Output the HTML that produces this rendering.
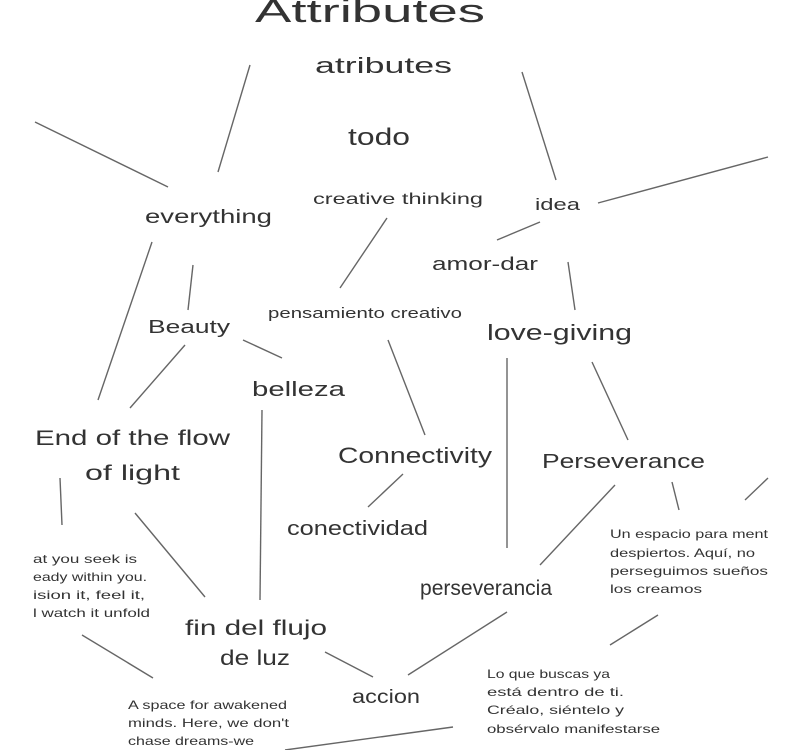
<!DOCTYPE html>
<html><head><style>
html,body{margin:0;padding:0;background:#fff;}
svg text{font-family:"Liberation Sans",sans-serif;fill:#333;}
</style></head><body>
<svg width="800" height="750" viewBox="0 0 800 750" xmlns="http://www.w3.org/2000/svg">
<g stroke="#666" stroke-width="1.4" fill="none">
<line x1="250" y1="65" x2="218" y2="172"/>
<line x1="35" y1="122" x2="168" y2="187"/>
<line x1="522" y1="72" x2="556" y2="180"/>
<line x1="598" y1="203" x2="768" y2="157"/>
<line x1="387" y1="218" x2="340" y2="288"/>
<line x1="540" y1="222" x2="497" y2="240"/>
<line x1="152" y1="242" x2="98" y2="400"/>
<line x1="193" y1="265" x2="188" y2="310"/>
<line x1="568" y1="262" x2="575" y2="310"/>
<line x1="243" y1="340" x2="282" y2="358"/>
<line x1="185" y1="345" x2="130" y2="408"/>
<line x1="388" y1="340" x2="425" y2="435"/>
<line x1="592" y1="362" x2="628" y2="440"/>
<line x1="507" y1="358" x2="507" y2="548"/>
<line x1="262" y1="410" x2="260" y2="600"/>
<line x1="403" y1="474" x2="368" y2="507"/>
<line x1="672" y1="482" x2="679" y2="510"/>
<line x1="768" y1="478" x2="745" y2="500"/>
<line x1="615" y1="485" x2="540" y2="565"/>
<line x1="60" y1="478" x2="62" y2="525"/>
<line x1="135" y1="513" x2="205" y2="597"/>
<line x1="82" y1="635" x2="153" y2="678"/>
<line x1="325" y1="652" x2="373" y2="677"/>
<line x1="507" y1="612" x2="408" y2="675"/>
<line x1="658" y1="615" x2="610" y2="645"/>
<line x1="453" y1="727" x2="285" y2="750"/>
</g>
<g lengthAdjust="spacingAndGlyphs">
<text x="255" y="22" font-size="32" textLength="230" lengthAdjust="spacingAndGlyphs">Attributes</text>
<text x="315" y="73" font-size="22" textLength="137" lengthAdjust="spacingAndGlyphs">atributes</text>
<text x="348" y="145" font-size="24" textLength="62" lengthAdjust="spacingAndGlyphs">todo</text>
<text x="313" y="204" font-size="16" textLength="170" lengthAdjust="spacingAndGlyphs">creative thinking</text>
<text x="535" y="210" font-size="17" textLength="45" lengthAdjust="spacingAndGlyphs">idea</text>
<text x="145" y="223" font-size="19" textLength="127" lengthAdjust="spacingAndGlyphs">everything</text>
<text x="432" y="270" font-size="18" textLength="106" lengthAdjust="spacingAndGlyphs">amor-dar</text>
<text x="148" y="333" font-size="18" textLength="82" lengthAdjust="spacingAndGlyphs">Beauty</text>
<text x="268" y="318" font-size="15" textLength="194" lengthAdjust="spacingAndGlyphs">pensamiento creativo</text>
<text x="487" y="340" font-size="22" textLength="145" lengthAdjust="spacingAndGlyphs">love-giving</text>
<text x="252" y="396" font-size="20" textLength="93" lengthAdjust="spacingAndGlyphs">belleza</text>
<text x="35" y="445" font-size="21" textLength="195" lengthAdjust="spacingAndGlyphs">End of the flow</text>
<text x="85" y="480" font-size="21" textLength="95" lengthAdjust="spacingAndGlyphs">of light</text>
<text x="338" y="463" font-size="22" textLength="154" lengthAdjust="spacingAndGlyphs">Connectivity</text>
<text x="542" y="468" font-size="20" textLength="163" lengthAdjust="spacingAndGlyphs">Perseverance</text>
<text x="287" y="535" font-size="20" textLength="141" lengthAdjust="spacingAndGlyphs">conectividad</text>
<text x="610" y="538" font-size="12" textLength="158" lengthAdjust="spacingAndGlyphs">Un espacio para ment</text>
<text x="610" y="557" font-size="12" textLength="145" lengthAdjust="spacingAndGlyphs">despiertos. Aquí, no</text>
<text x="610" y="575" font-size="12" textLength="158" lengthAdjust="spacingAndGlyphs">perseguimos sueños</text>
<text x="610" y="593" font-size="12" textLength="92" lengthAdjust="spacingAndGlyphs">los creamos</text>
<text x="33" y="563" font-size="12" textLength="104" lengthAdjust="spacingAndGlyphs">at you seek is</text>
<text x="33" y="581" font-size="12" textLength="114" lengthAdjust="spacingAndGlyphs">eady within you.</text>
<text x="33" y="599" font-size="12" textLength="112" lengthAdjust="spacingAndGlyphs">ision it, feel it,</text>
<text x="33" y="617" font-size="12" textLength="117" lengthAdjust="spacingAndGlyphs">l watch it unfold</text>
<text x="420" y="595" font-size="21" textLength="132" lengthAdjust="spacingAndGlyphs">perseverancia</text>
<text x="185" y="635" font-size="21" textLength="142" lengthAdjust="spacingAndGlyphs">fin del flujo</text>
<text x="220" y="665" font-size="21" textLength="70" lengthAdjust="spacingAndGlyphs">de luz</text>
<text x="352" y="703" font-size="19" fill="#555" textLength="68" lengthAdjust="spacingAndGlyphs">accion</text>
<text x="487" y="678" font-size="12" textLength="123" lengthAdjust="spacingAndGlyphs">Lo que buscas ya</text>
<text x="487" y="696" font-size="12" textLength="137" lengthAdjust="spacingAndGlyphs">está dentro de ti.</text>
<text x="487" y="714" font-size="12" textLength="137" lengthAdjust="spacingAndGlyphs">Créalo, siéntelo y</text>
<text x="487" y="733" font-size="12" textLength="173" lengthAdjust="spacingAndGlyphs">obsérvalo manifestarse</text>
<text x="128" y="709" font-size="12" textLength="159" lengthAdjust="spacingAndGlyphs">A space for awakened</text>
<text x="128" y="727" font-size="12" textLength="161" lengthAdjust="spacingAndGlyphs">minds. Here, we don't</text>
<text x="128" y="745" font-size="12" textLength="126" lengthAdjust="spacingAndGlyphs">chase dreams-we</text>
</g>
</svg>
</body></html>
